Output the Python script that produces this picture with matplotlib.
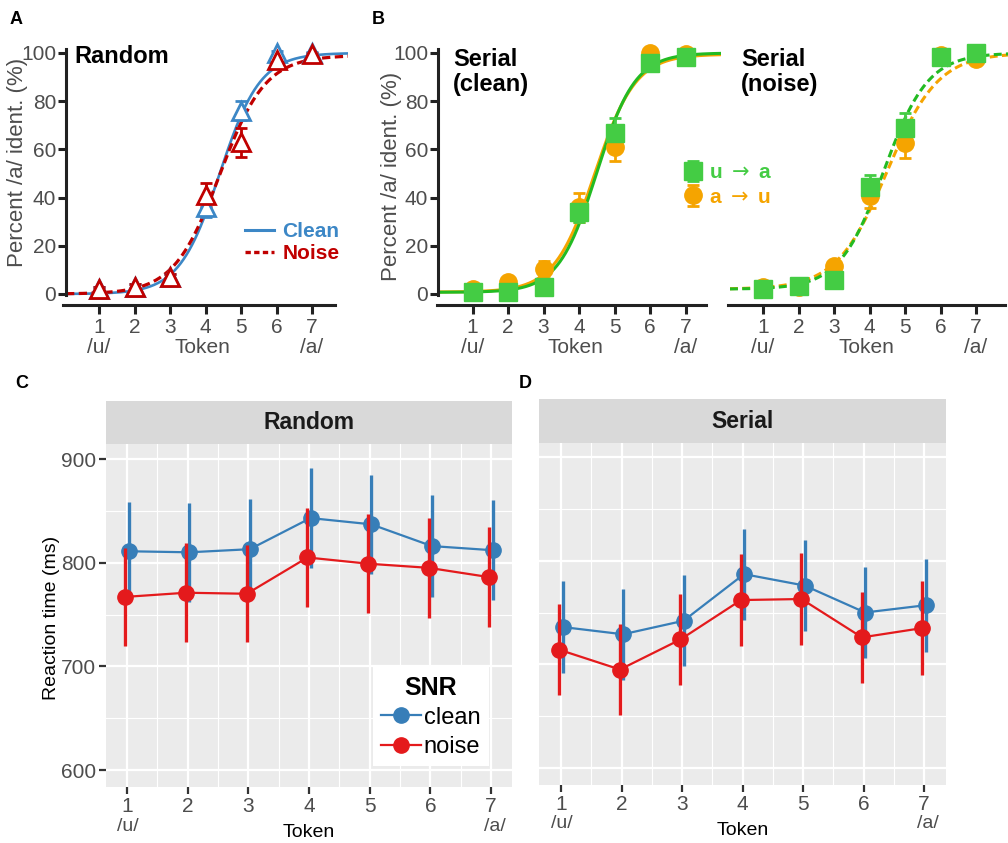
import numpy as np
import matplotlib
matplotlib.use('Agg')
import matplotlib.pyplot as plt
from matplotlib.lines import Line2D

plt.rcParams['font.family'] = ['Liberation Sans', 'DejaVu Sans']

W, H = 1008, 843

tokens = np.arange(1, 8)
tick_labels = ['1', '2', '3', '4', '5', '6', '7']

# --- A: random order, % /a/ identification
rand_clean = [2, 3, 7, 36, 76, 100, 100]
rand_clean_err = [1, 1, 1.5, 4, 4, 1, 0.5]
rand_noise = [2, 3, 7, 41, 63, 97, 99.5]
rand_noise_err = [1, 1, 1.5, 5, 6, 1, 0.5]
# logistic fits: (lower, upper, slope, midpoint)
fit_rand_clean = (0, 100, 1.75, 4.4)
fit_rand_noise = (0, 99, 1.55, 4.4)

# --- B: serial order
ser_clean_ua = [1, 1, 3, 34, 67, 96, 98.5]
ser_clean_ua_err = [1, 1, 1, 4, 6, 2, 1]
ser_clean_au = [2, 5, 10.5, 36, 61, 100, 99.5]
ser_clean_au_err = [1, 1.5, 3, 6, 6, 1, 1]
ser_noise_ua = [2, 3.5, 6, 44.5, 69, 98.5, 100]
ser_noise_ua_err = [1, 1, 1, 5, 6, 1, 1]
ser_noise_au = [3, 3, 11.5, 40.5, 62.5, 99, 97.5]
ser_noise_au_err = [1, 1, 1.5, 5, 6, 1, 1]
fit_ser_clean_ua = (0.7, 100, 1.85, 4.5)
fit_ser_clean_au = (0.8, 99.5, 1.75, 4.45)
fit_ser_noise_ua = (2, 100, 1.6, 4.4)
fit_ser_noise_au = (2, 100, 1.4, 4.5)

# --- C/D: reaction times (ms)
rt_rand_clean = [811, 810, 813, 843, 837, 816, 812]
rt_rand_clean_err = [48, 48, 48, 48, 48, 49, 48]
rt_rand_noise = [767, 771, 770, 805, 799, 795, 786]
rt_rand_noise_err = [47, 48, 47, 48, 48, 48, 48]
rt_ser_clean = [736, 729, 742, 787, 776, 750, 757]
rt_ser_clean_err = [44, 44, 44, 44, 44, 44, 45]
rt_ser_noise = [714, 695, 724, 762, 763, 726, 735]
rt_ser_noise_err = [44, 44, 44, 44, 44, 44, 45]

BLUE_A, RED_A = '#3C87C6', '#C00000'
GREEN, GREEN_LINE, ORANGE = '#44CC44', '#22BB22', '#F5A400'
BLUE, RED = '#377EB8', '#E41A1C'
GRAY_TXT = '#4D4D4D'

TOK_PX = 35.5            # px per token in A/B
ZERO_PX, HUND_PX = 294, 53
PCT_PX = (ZERO_PX - HUND_PX) / 100.0


def logistic(x, p):
    lo, hi, k, m = p
    return lo + (hi - lo) / (1 + np.exp(-k * (x - m)))


def px_axes(fig, x0, y0, x1, y1):
    return fig.add_axes([x0 / W, 1 - y1 / H, (x1 - x0) / W, (y1 - y0) / H])


def psych_panel(fig, box, tok1, xspan, show_y):
    x0, y0, x1, y1 = box
    ax = px_axes(fig, *box)
    ax.set_xlim(1 + (x0 - tok1) / TOK_PX, 1 + (x1 - tok1) / TOK_PX)
    ax.set_ylim(-(y1 - ZERO_PX) / PCT_PX, 100 + (HUND_PX - y0) / PCT_PX)
    ax.patch.set_visible(False)
    for s in ['top', 'right']:
        ax.spines[s].set_visible(False)
    ax.spines['bottom'].set_position(('data', -4.6))
    ax.spines['bottom'].set_bounds(1 + (xspan[0] - tok1) / TOK_PX,
                                   1 + (xspan[1] - tok1) / TOK_PX)
    ax.spines['bottom'].set_linewidth(2.2)
    ax.spines['bottom'].set_color('#222222')
    ax.set_xticks(tokens)
    ax.set_xticklabels(tick_labels)
    ax.tick_params(axis='x', length=6.5, width=2.2, color='#222222',
                   labelcolor=GRAY_TXT, labelsize=15, pad=3)
    if show_y:
        ax.spines['left'].set_bounds(-0.5, 101.5)
        ax.spines['left'].set_linewidth(2.2)
        ax.spines['left'].set_color('#222222')
        ax.set_yticks([0, 20, 40, 60, 80, 100])
        ax.tick_params(axis='y', length=6, width=2.2, color='#222222',
                       labelcolor=GRAY_TXT, labelsize=15, pad=1)
        ax.set_ylabel('Percent /a/ ident. (%)', fontsize=16, color=GRAY_TXT)
    else:
        ax.spines['left'].set_visible(False)
        ax.set_yticks([])
    for x, s in zip([1, 3.9, 7], ['/u/', 'Token', '/a/']):
        ax.text(x, -22, s, ha='center', va='center', fontsize=15,
                color=GRAY_TXT, clip_on=False)
    return ax


fig = plt.figure(figsize=(W / 100, H / 100), dpi=100)

# ---------------- A
axA = psych_panel(fig, (66, 40, 348, 312), 99, (63, 335), True)
axA.yaxis.set_label_coords(-0.135, 0.55)
xs = np.linspace(axA.get_xlim()[0], 8.05, 300)
axA.plot(xs, logistic(xs, fit_rand_clean), color=BLUE_A, lw=1.9)
axA.plot(xs, logistic(xs, fit_rand_noise), color=RED_A, lw=2.3,
         linestyle=(0, (2.6, 1.4)))
axA.errorbar(tokens, rand_clean, yerr=rand_clean_err, fmt='^', color=BLUE_A,
             ms=13, mfc='white', mew=2, elinewidth=2, capsize=4, capthick=2)
axA.errorbar(tokens, rand_noise, yerr=rand_noise_err, fmt='^', color=RED_A,
             ms=13, mfc='white', mew=2, elinewidth=2, capsize=4, capthick=2)
axA.text(0.32, 98.5, 'Random', fontsize=17, fontweight='bold', va='center')
axA.legend([Line2D([], [], color=BLUE_A, lw=2.2),
            Line2D([], [], color=RED_A, lw=2.4, linestyle=(0, (1.6, 1.0)))],
           ['Clean', 'Noise'], loc='center right',
           bbox_to_anchor=(1.0, 0.254), frameon=False,
           prop={'weight': 'bold', 'size': 15}, labelcolor='linecolor',
           handlelength=1.4, handletextpad=0.4, labelspacing=0.15,
           borderaxespad=0)

# ---------------- B clean
axB1 = psych_panel(fig, (438, 40, 721, 312), 472.5, (437, 706), True)
axB1.yaxis.set_label_coords(-0.127, 0.5)
xs = np.linspace(axB1.get_xlim()[0], 8.05, 300)
axB1.plot(xs, logistic(xs, fit_ser_clean_au), color=ORANGE, lw=2.2)
axB1.plot(xs, logistic(xs, fit_ser_clean_ua), color=GREEN_LINE, lw=2.2)
hau = axB1.errorbar(tokens, ser_clean_au, yerr=ser_clean_au_err, fmt='o',
                    color=ORANGE, ms=12.5, elinewidth=2, capsize=4, capthick=2)
hua = axB1.errorbar(tokens, ser_clean_ua, yerr=ser_clean_ua_err, fmt='s',
                    color=GREEN, ms=12.5, elinewidth=2, capsize=4, capthick=2)
axB1.text(0.45, 92, 'Serial\n(clean)', fontsize=17, fontweight='bold',
          va='center', linespacing=1.1)
axB1.legend([hua, hau], [r'u $\rightarrow$ a', r'a $\rightarrow$ u'],
            loc='center left', bbox_to_anchor=(0.84, 0.467), frameon=False,
            prop={'weight': 'bold', 'size': 15}, labelcolor=[GREEN, ORANGE],
            handlelength=0.9, handletextpad=0.3, labelspacing=0.25,
            borderaxespad=0)

# ---------------- B noise
axB2 = psych_panel(fig, (730, 40, 1008, 312), 763, (728, 1005), False)
xs = np.linspace(axB2.get_xlim()[0], 8.05, 300)
axB2.plot(xs, logistic(xs, fit_ser_noise_au), color=ORANGE, lw=2.2,
          linestyle=(0, (2.6, 1.4)))
axB2.plot(xs, logistic(xs, fit_ser_noise_ua), color=GREEN_LINE, lw=2.2,
          linestyle=(0, (2.6, 1.4)))
axB2.errorbar(tokens, ser_noise_au, yerr=ser_noise_au_err, fmt='o',
              color=ORANGE, ms=12.5, elinewidth=2, capsize=4, capthick=2)
axB2.errorbar(tokens, ser_noise_ua, yerr=ser_noise_ua_err, fmt='s',
              color=GREEN, ms=12.5, elinewidth=2, capsize=4, capthick=2)
axB2.text(0.38, 92, 'Serial\n(noise)', fontsize=17, fontweight='bold',
          va='center', linespacing=1.1)


# ---------------- C / D
def gg_panel(box, strip, title, t1, t7, y900, y600,
             clean, clean_err, noise, noise_err, show_y):
    x0, y0, x1, y1 = box
    sp = (t7 - t1) / 6.0
    ms_px = (y600 - y900) / 300.0
    ax = px_axes(fig, *box)
    ax.set_xlim(1 + (x0 - t1) / sp, 1 + (x1 - t1) / sp)
    ax.set_ylim(600 - (y1 - y600) / ms_px, 900 + (y900 - y0) / ms_px)
    ax.set_facecolor('#EBEBEB')
    for s in ax.spines.values():
        s.set_visible(False)
    ax.set_xticks(tokens)
    ax.set_xticklabels(tick_labels)
    ax.set_xticks(tokens[:-1] + 0.5, minor=True)
    ax.set_yticks([600, 700, 800, 900])
    ax.set_yticks([650, 750, 850], minor=True)
    ax.grid(which='major', color='white', lw=1.6)
    ax.grid(which='minor', color='white', lw=0.8)
    ax.set_axisbelow(True)
    ax.tick_params(which='minor', length=0)
    ax.tick_params(axis='x', length=5, width=1.6, color='#333333',
                   labelcolor=GRAY_TXT, labelsize=15, pad=2)
    if show_y:
        ax.tick_params(axis='y', length=5, width=1.6, color='#333333',
                       labelcolor=GRAY_TXT, labelsize=15, pad=2)
        ax.set_ylabel('Reaction time (ms)', fontsize=14)
        ax.yaxis.set_label_coords(-0.113, 0.494)
    else:
        ax.tick_params(axis='y', length=0, labelleft=False)
    tr = ax.get_xaxis_transform()
    ax.text(1.02, -0.114, '/u/', transform=tr, ha='center', va='center',
            fontsize=14, color=GRAY_TXT)
    ax.text(7.06, -0.114, '/a/', transform=tr, ha='center', va='center',
            fontsize=14, color=GRAY_TXT)
    ax.text(0.5, -0.134, 'Token', transform=ax.transAxes, ha='center',
            va='center', fontsize=14)

    dodge = 0.025
    ax.errorbar(tokens + dodge, clean, yerr=clean_err, fmt='none',
                ecolor=BLUE, elinewidth=2.4)
    ax.plot(tokens + dodge, clean, '-o', color=BLUE, lw=1.6, ms=11,
            label='clean')
    ax.errorbar(tokens - dodge, noise, yerr=noise_err, fmt='none',
                ecolor=RED, elinewidth=2.4)
    ax.plot(tokens - dodge, noise, '-o', color=RED, lw=1.6, ms=11,
            label='noise')

    sa = px_axes(fig, *strip)
    sa.set_facecolor('#D9D9D9')
    sa.set_xticks([])
    sa.set_yticks([])
    for s in sa.spines.values():
        s.set_visible(False)
    sa.text(0.5, 0.5, title, ha='center', va='center', fontsize=16.5,
            fontweight='bold', color='#1A1A1A')
    return ax


axC = gg_panel((106, 444, 512, 787), (106, 401, 512, 444), 'Random',
               127, 491, 459, 770, rt_rand_clean, rt_rand_clean_err,
               rt_rand_noise, rt_rand_noise_err, True)
axC.legend(loc='center', bbox_to_anchor=(0.80, 0.205), title='SNR',
           fontsize=17, title_fontproperties={'weight': 'bold', 'size': 18},
           frameon=True, facecolor='white', edgecolor='none',
           fancybox=False, framealpha=1, handlelength=1.7,
           handletextpad=0.1, labelspacing=0.3, borderpad=0.35)

axD = gg_panel((539, 443, 946, 785), (539, 399, 946, 443), 'Serial',
               561, 924, 457, 768, rt_ser_clean, rt_ser_clean_err,
               rt_ser_noise, rt_ser_noise_err, False)

for lab, (x, y) in zip('ABCD', [(16, 20), (378, 20), (22, 383), (525, 383)]):
    fig.text(x / W, 1 - y / H, lab, ha='center', va='center', fontsize=13,
             fontweight='bold')

fig.savefig('out.png', dpi=100)
